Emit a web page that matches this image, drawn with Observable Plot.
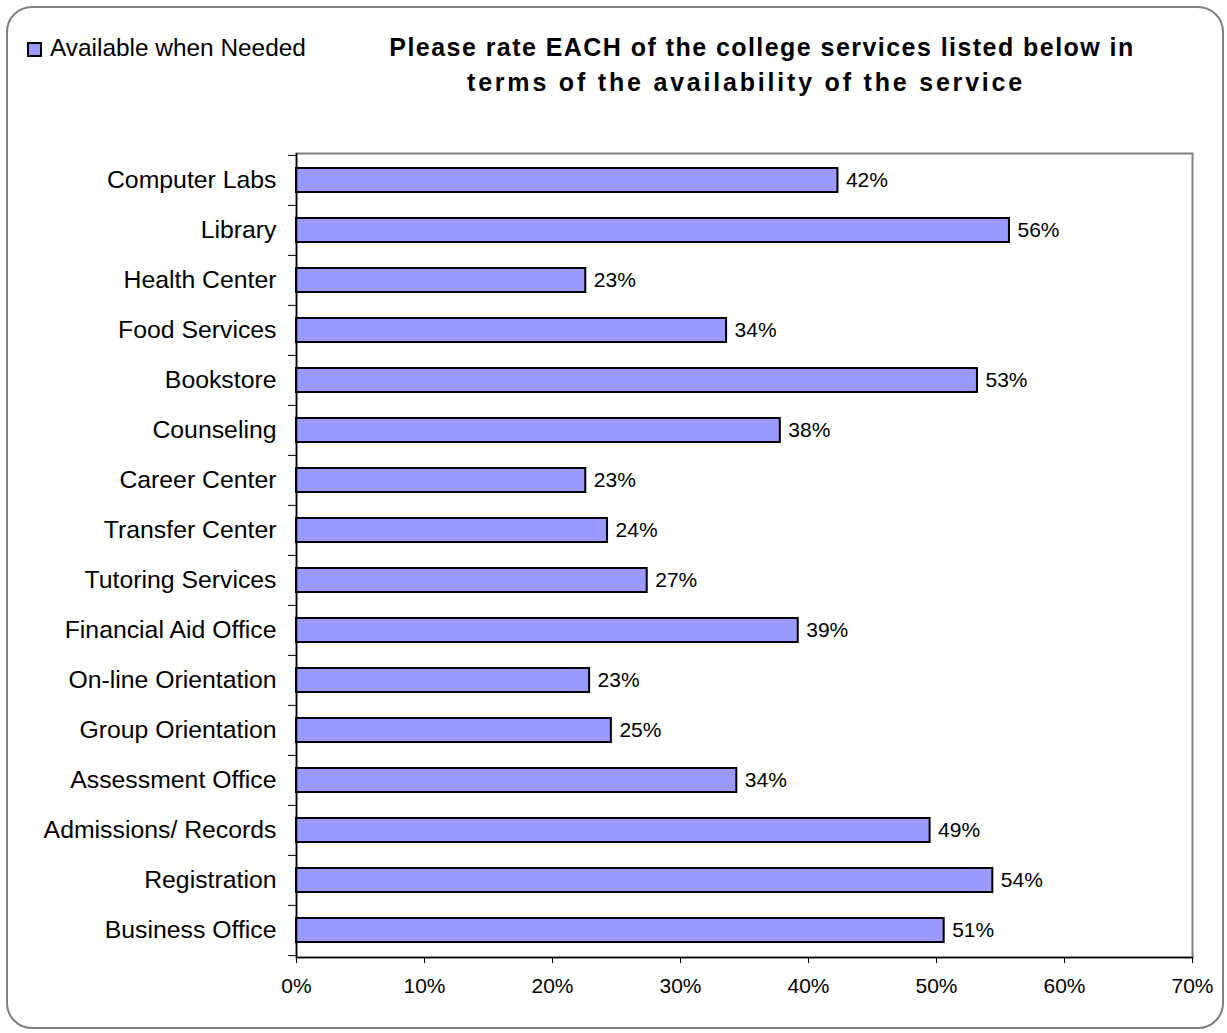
<!DOCTYPE html>
<html>
<head>
<meta charset="utf-8">
<script src="https://cdn.jsdelivr.net/npm/d3@7"></script>
<script src="https://cdn.jsdelivr.net/npm/@observablehq/plot@0.6"></script>
<style>
  html, body { margin: 0; padding: 0; background: #fff; }
  body { font-family: "Liberation Sans", Arial, sans-serif; color: #000; }
  #wrap { position: relative; width: 1227px; height: 1033px; overflow: hidden; }
  #border { position: absolute; left: 6px; top: 6px; width: 1218px; height: 1023px; border: 2px solid #808080; border-radius: 26px; box-sizing: border-box; }
  #legend { position: absolute; left: 27px; top: 34px; font-size: 24.4px; line-height: 28px; white-space: nowrap; }
  #legend .sw { display: inline-block; width: 15px; height: 15px; background: #9999FF; border: 2px solid #000; box-sizing: border-box; margin-right: 8px; vertical-align: -1px; }
  .tline { position: absolute; text-align: center; font-weight: bold; font-size: 25px; line-height: 35px; white-space: nowrap; }
  #t1 { left: 362px; width: 800px; top: 30px; letter-spacing: 1.45px; }
  #t2 { left: 346px; width: 800px; top: 65px; letter-spacing: 2.8px; }
  #chart { position: absolute; left: 0; top: 140px; }
</style>
</head>
<body>
<div id="wrap">
  <div id="border"></div>
  <div id="legend"><span class="sw"></span>Available when Needed</div>
  <div class="tline" id="t1">Please rate EACH of the college services listed below in</div>
  <div class="tline" id="t2">terms of the availability of the service</div>
  <div id="chart"></div>
</div>
<script>
const categories = [
  "Computer Labs", "Library", "Health Center", "Food Services", "Bookstore",
  "Counseling", "Career Center", "Transfer Center", "Tutoring Services",
  "Financial Aid Office", "On-line Orientation", "Group Orientation",
  "Assessment Office", "Admissions/ Records", "Registration", "Business Office"
];
const values = [0.423, 0.557, 0.226, 0.336, 0.532, 0.378, 0.226, 0.243, 0.274, 0.392, 0.229, 0.246, 0.344, 0.495, 0.544, 0.506];
const valueLabels = ["42%", "56%", "23%", "34%", "53%", "38%", "23%", "24%", "27%", "39%", "23%", "25%", "34%", "49%", "54%", "51%"];
const xTicks = [0, 0.1, 0.2, 0.3, 0.4, 0.5, 0.6, 0.7];

const data = categories.map((c, i) => ({cat: c, value: values[i], label: valueLabels[i]}));

const W = 1227, H = 877, mT = 13, mB = 60, mL = 296, mR = 35;
const bw = (H - mT - mB) / categories.length;

const chart = Plot.plot({
  width: W,
  height: H,
  marginLeft: mL,
  marginRight: mR,
  marginTop: mT,
  marginBottom: mB,
  style: {fontFamily: '"Liberation Sans", Arial, sans-serif', color: "#000", background: "transparent"},
  x: {domain: [0, 0.7], ticks: xTicks, tickFormat: d3.format(".0%"), label: null},
  y: {domain: categories, type: "band", paddingInner: 0.52, paddingOuter: 0.26, label: null},
  marks: [
    Plot.frame({stroke: "#808080", strokeWidth: 2}),
    Plot.barX(data, {x: "value", y: "cat", fill: "#9999FF", stroke: "#000", strokeWidth: 2}),
    Plot.text(data, {x: "value", y: "cat", text: "label", textAnchor: "start", dx: 8, fontSize: 21, fill: "#000"}),
    Plot.ruleX([0], {stroke: "#000", strokeWidth: 1.5}),
    Plot.frame({anchor: "bottom", stroke: "#000", strokeWidth: 1.5}),
    Plot.axisX({ticks: xTicks, tickSize: 6, tickPadding: 15, fontSize: 21, tickFormat: d3.format(".0%"), stroke: "#000", label: null}),
    Plot.axisY({tickSize: 0, tickPadding: 20, fontSize: 24.8, label: null}),
    Plot.axisY({tickSize: 8, tickFormat: () => "", dy: -bw / 2, label: null, stroke: "#000"}),
    Plot.axisY([categories[categories.length - 1]], {tickSize: 8, tickFormat: () => "", dy: bw / 2, label: null, stroke: "#000"})
  ]
});
document.getElementById("chart").appendChild(chart);
</script>
</body>
</html>
